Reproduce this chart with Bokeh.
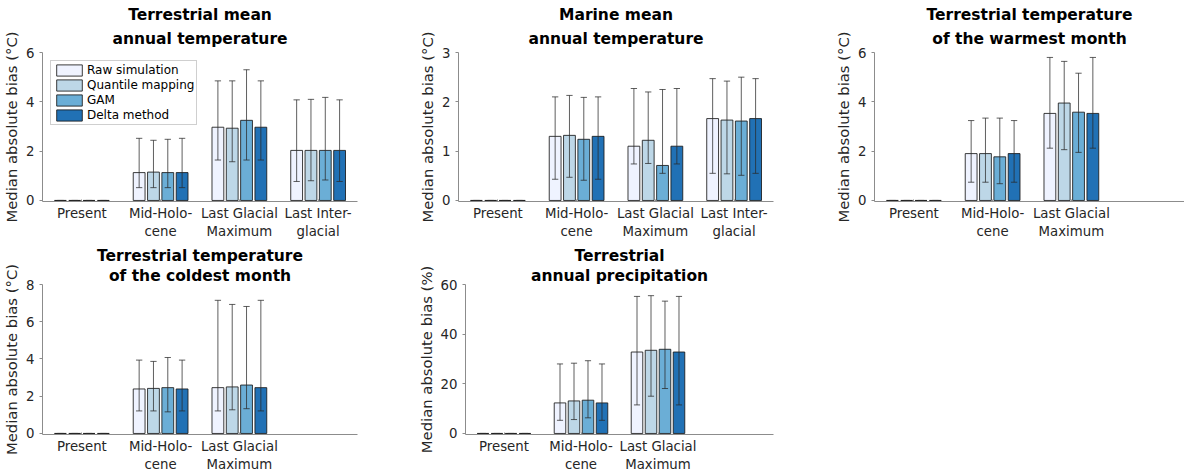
from bokeh.plotting import figure
from bokeh.models import Range1d, FixedTicker, Title, Legend, LegendItem, ColumnDataSource, Spacer
from bokeh.layouts import column, row
from bokeh.embed import file_html
from bokeh.resources import INLINE

# ---------------- data ----------------
tick_labels = ["Present", "Mid-Holo-\ncene", "Last Glacial\nMaximum", "Last Inter-\nglacial"]
methods = ["Raw simulation", "Quantile mapping", "GAM", "Delta method"]
colors = ["#eff3ff", "#bdd7e7", "#6baed6", "#2171b5"]

# rows: Raw, QM, GAM, Delta ; columns: periods
tmean_terr_med = [[0, 1.13, 2.97, 2.03], [0, 1.15, 2.93, 2.03], [0, 1.13, 3.25, 2.03], [0, 1.13, 2.97, 2.03]]
tmean_terr_lo = [[0, 0.52, 1.64, 0.77], [0, 0.52, 1.57, 0.80], [0, 0.52, 1.64, 0.83], [0, 0.52, 1.64, 0.77]]
tmean_terr_hi = [[0, 2.52, 4.85, 4.08], [0, 2.44, 4.85, 4.10], [0, 2.48, 5.30, 4.18], [0, 2.52, 4.85, 4.08]]

tmean_mar_med = [[0, 1.30, 1.10, 1.66], [0, 1.32, 1.22, 1.63], [0, 1.24, 0.71, 1.61], [0, 1.30, 1.10, 1.66]]
tmean_mar_lo = [[0, 0.43, 0.74, 0.55], [0, 0.47, 0.75, 0.54], [0, 0.41, 0.55, 0.51], [0, 0.43, 0.74, 0.55]]
tmean_mar_hi = [[0, 2.10, 2.27, 2.47], [0, 2.13, 2.20, 2.42], [0, 2.09, 2.25, 2.50], [0, 2.10, 2.27, 2.47]]

twarm_med = [[0, 1.90, 3.53], [0, 1.90, 3.95], [0, 1.77, 3.58], [0, 1.90, 3.53]]
twarm_lo = [[0, 0.74, 2.12], [0, 0.74, 2.06], [0, 0.68, 1.95], [0, 0.74, 2.12]]
twarm_hi = [[0, 3.24, 5.80], [0, 3.34, 5.64], [0, 3.34, 5.16], [0, 3.24, 5.80]]

tcold_med = [[0, 2.39, 2.46], [0, 2.42, 2.50], [0, 2.46, 2.60], [0, 2.39, 2.46]]
tcold_lo = [[0, 1.21, 1.21], [0, 1.21, 1.27], [0, 1.16, 1.33], [0, 1.21, 1.21]]
tcold_hi = [[0, 3.94, 7.15], [0, 3.87, 6.93], [0, 4.08, 6.82], [0, 3.94, 7.15]]

prec_med = [[0, 12.3, 32.8], [0, 13.1, 33.5], [0, 13.4, 33.9], [0, 12.3, 32.8]]
prec_lo = [[0, 5.3, 11.5], [0, 5.6, 15.0], [0, 6.3, 18.1], [0, 5.3, 11.5]]
prec_hi = [[0, 28.0, 55.2], [0, 28.3, 55.5], [0, 29.3, 53.3], [0, 28.0, 55.2]]

# ---------------- style ----------------
offsets = [-0.2727, -0.0909, 0.0909, 0.2727]
bar_w = 0.15
cap = 0.04
FONT = "DejaVu Sans"
AXIS_COL = "#8c8c8c"
TXT_COL = "#262626"


def make_panel(t1, t2, ylab, ymax, yticks, med, lo, hi, width, height, bl, br, bt, bb, xend,
               s2, s1, show_legend=False):
    p = figure(width=width, height=height, x_range=Range1d(0.5, xend),
               y_range=Range1d(-ymax * 0.007, ymax),
               output_backend="svg", toolbar_location=None, title=None,
               min_border_left=bl, min_border_right=br, min_border_top=bt, min_border_bottom=bb,
               outline_line_color=None, background_fill_color="white", border_fill_color="white")
    p.grid.visible = False

    renderers = []
    for m in range(4):
        n = len(med[m])
        xs = [i + 1 + offsets[m] for i in range(n)]
        src = ColumnDataSource(dict(x=xs, xl=[x - cap for x in xs], xr=[x + cap for x in xs],
                                    top=med[m], lo=lo[m], hi=hi[m]))
        r = p.vbar(x="x", top="top", bottom=0, width=bar_w, source=src, fill_color=colors[m],
                   line_color="#1a1a1a", line_alpha=0.85, line_width=1)
        renderers.append(r)
        p.segment(x0="x", y0="lo", x1="x", y1="hi", source=src, line_color="#2a2a2a",
                  line_alpha=0.75, line_width=1)
        p.segment(x0="xl", y0="hi", x1="xr", y1="hi", source=src, line_color="#2a2a2a",
                  line_alpha=0.75, line_width=1)
        p.segment(x0="xl", y0="lo", x1="xr", y1="lo", source=src, line_color="#2a2a2a",
                  line_alpha=0.75, line_width=1)

    n = len(med[0])
    p.xaxis.ticker = FixedTicker(ticks=list(range(1, n + 1)))
    p.xaxis.major_label_overrides = {i + 1: tick_labels[i] for i in range(n)}
    p.yaxis.ticker = FixedTicker(ticks=yticks)
    for ax in (p.xaxis, p.yaxis):
        ax.axis_line_color = AXIS_COL
        ax.major_tick_line_color = AXIS_COL
        ax.minor_tick_line_color = None
        ax.major_tick_in = 0
        ax.major_tick_out = 3
        ax.major_label_text_font = FONT
        ax.major_label_text_font_size = "13.3px"
        ax.major_label_text_color = TXT_COL
    p.xaxis.major_tick_out = 0
    p.xaxis.major_tick_in = 2
    p.xaxis.major_label_standoff = 4
    p.yaxis.major_label_standoff = 5
    p.yaxis.axis_label = ylab
    p.yaxis.axis_label_text_font = FONT
    p.yaxis.axis_label_text_font_size = "14.8px"
    p.yaxis.axis_label_text_font_style = "normal"
    p.yaxis.axis_label_text_color = TXT_COL
    p.yaxis.axis_label_standoff = 3

    p.add_layout(Title(text=t2, align="center", text_font=FONT, text_font_size="15.5px",
                       text_font_style="bold", text_color="black", standoff=s2), "above")
    p.add_layout(Title(text=t1, align="center", text_font=FONT, text_font_size="15.5px",
                       text_font_style="bold", text_color="black", standoff=s1), "above")

    if show_legend:
        legend = Legend(items=[LegendItem(label=methods[m], renderers=[renderers[m]]) for m in range(4)],
                        location="top_left", margin=8, padding=2, spacing=1,
                        glyph_width=32, glyph_height=14, label_height=14, label_standoff=2,
                        label_text_font=FONT, label_text_font_size="12px", label_text_color="black",
                        border_line_color="#a0a0a0", border_line_width=1,
                        background_fill_color="white", background_fill_alpha=1.0)
        p.add_layout(legend)
    return p


ylab_c = "Median absolute bias (°C)"
ylab_p = "Median absolute bias (%)"

H1, H2 = 242, 233
p1 = make_panel("Terrestrial mean", "annual temperature", ylab_c, 6, [0, 2, 4, 6],
                tmean_terr_med, tmean_terr_lo, tmean_terr_hi, 414, H1, 42, 57, 52, 41, 4.5, 9, 0, True)
p2 = make_panel("Marine mean", "annual temperature", ylab_c, 3, [0, 1, 2, 3],
                tmean_mar_med, tmean_mar_lo, tmean_mar_hi, 418, H1, 44, 59, 52, 41, 4.5, 9, 0)
p3 = make_panel("Terrestrial temperature", "of the warmest month", ylab_c, 6, [0, 2, 4, 6],
                twarm_med, twarm_lo, twarm_hi, 352, H1, 42, 0, 52, 41, 0.5 + 310 / 78.75, 9, 0)
p4 = make_panel("Terrestrial temperature", "of the coldest month", ylab_c, 8, [0, 2, 4, 6, 8],
                tcold_med, tcold_lo, tcold_hi, 414, H2, 42, 57, 42, 41, 4.5, 0, 0)
p5 = make_panel("Terrestrial", "annual precipitation", ylab_p, 60, [0, 20, 40, 60],
                prec_med, prec_lo, prec_hi, 418, H2, 44, 59, 42, 41, 4.5, 0, 0)

layout = column(row(p1, p2, p3), row(p4, p5, Spacer(width=352, height=H2)))

open("out.html", "w").write(file_html(layout, INLINE))
